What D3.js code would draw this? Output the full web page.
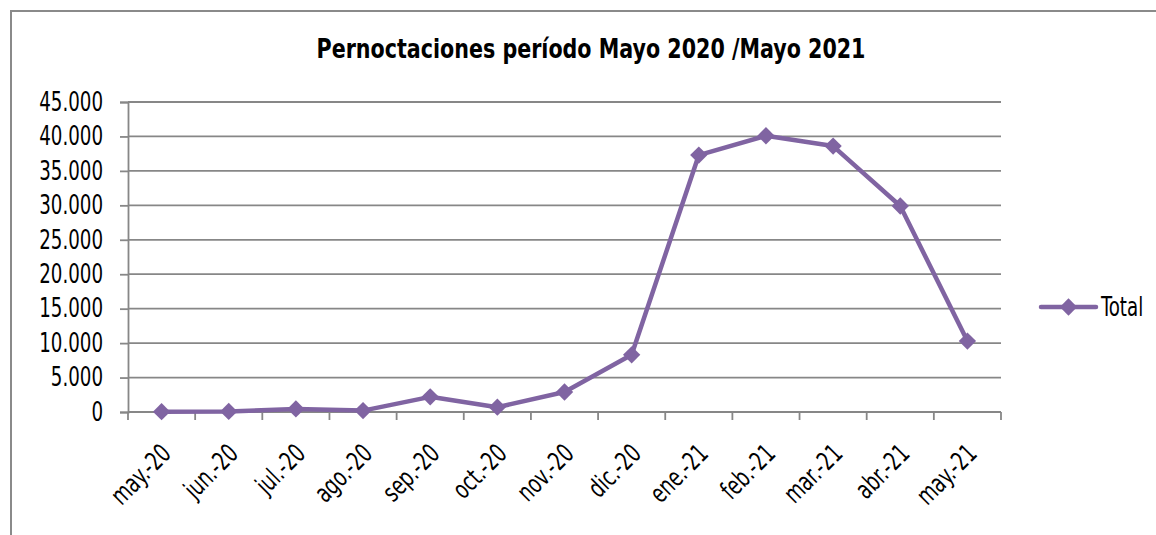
<!DOCTYPE html>
<html>
<head>
<meta charset="utf-8">
<script src="https://cdn.jsdelivr.net/npm/d3@7"></script>
<style>
  body { margin: 0; background: #fff; }
  text { font-family: "DejaVu Sans Condensed", "Liberation Sans Narrow", sans-serif; fill: #000; }
</style>
</head>
<body>
<script>
var months = ["may.-20", "jun.-20", "jul.-20", "ago.-20", "sep.-20", "oct.-20", "nov.-20",
              "dic.-20", "ene.-21", "feb.-21", "mar.-21", "abr.-21", "may.-21"];
var total = [50, 80, 450, 200, 2200, 700, 2900, 8300, 37300, 40100, 38600, 29900, 10300];
var yTicks = [0, 5000, 10000, 15000, 20000, 25000, 30000, 35000, 40000, 45000];

var width = 1156, height = 535;
var margin = {left: 128, right: 155, top: 102, bottom: 123};
var squeeze = 0.78; // the original font is a condensed one, narrow the glyphs

var svg = d3.select("body").append("svg")
    .attr("width", width)
    .attr("height", height);

// chart frame
svg.append("rect")
    .attr("x", 11).attr("y", 11)
    .attr("width", 1170).attr("height", 600)
    .attr("fill", "none")
    .attr("stroke", "#8a8a8a")
    .attr("stroke-width", 2);

svg.append("text")
    .attr("transform", "translate(591,58) scale(0.85,1)")
    .attr("text-anchor", "middle")
    .style("font-size", "27px")
    .style("font-weight", "bold")
    .text("Pernoctaciones período Mayo 2020 /Mayo 2021");

var x = d3.scaleBand()
    .domain(months)
    .range([margin.left, width - margin.right]);

var y = d3.scaleLinear()
    .domain([0, 45000])
    .range([height - margin.bottom, margin.top]);

var fmt = function (d) { return d3.format(",")(d).replace(/,/g, "."); };

// gridlines
svg.append("g")
    .selectAll("line")
    .data(yTicks.slice(1))
    .enter().append("line")
    .attr("x1", margin.left).attr("x2", width - margin.right)
    .attr("y1", d => y(d)).attr("y2", d => y(d))
    .attr("stroke", "#878787")
    .attr("stroke-width", 1.8);

// y axis
var yAxis = svg.append("g")
    .attr("transform", "translate(" + margin.left + ",0)")
    .call(d3.axisLeft(y).tickValues(yTicks).tickFormat(fmt).tickSize(8));
yAxis.selectAll("line, path").attr("stroke", "#878787").attr("stroke-width", 1.8);
yAxis.selectAll("text")
    .attr("x", 0)
    .attr("transform", "translate(-25,0) scale(" + squeeze + ",1)")
    .style("font-size", "26px")
    .attr("fill", "#000");

// x axis with ticks between categories
var xAxis = svg.append("g")
    .attr("transform", "translate(0," + y(0) + ")");
xAxis.append("line")
    .attr("x1", margin.left).attr("x2", width - margin.right)
    .attr("stroke", "#878787").attr("stroke-width", 1.8);
xAxis.selectAll(".tk")
    .data(months.concat(["end"]))
    .enter().append("line")
    .attr("class", "tk")
    .attr("x1", (d, i) => margin.left + i * x.bandwidth())
    .attr("x2", (d, i) => margin.left + i * x.bandwidth())
    .attr("y1", 0).attr("y2", 8)
    .attr("stroke", "#878787").attr("stroke-width", 1.8);
xAxis.selectAll(".lbl")
    .data(months)
    .enter().append("text")
    .attr("class", "lbl")
    .attr("text-anchor", "end")
    .attr("transform", d => "translate(" + (x(d) + x.bandwidth() / 2 + 11) + ",43) rotate(-45) scale(" + squeeze + ",1)")
    .style("font-size", "26px")
    .text(d => d);

// series line
var line = d3.line()
    .x((d, i) => x(months[i]) + x.bandwidth() / 2)
    .y(d => y(d));

svg.append("path")
    .datum(total)
    .attr("d", line)
    .attr("fill", "none")
    .attr("stroke", "#8064a2")
    .attr("stroke-width", 4.5)
    .attr("stroke-linejoin", "round");

var diamond = d3.symbol().type(d3.symbolSquare).size(150);

svg.append("g")
    .selectAll("path")
    .data(total)
    .enter().append("path")
    .attr("d", diamond)
    .attr("transform", (d, i) => "translate(" + (x(months[i]) + x.bandwidth() / 2) + "," + y(d) + ") rotate(45)")
    .attr("fill", "#8064a2");

// legend
var lg = svg.append("g").attr("transform", "translate(1041,307)");
lg.append("line")
    .attr("x1", 0).attr("x2", 55)
    .attr("stroke", "#8064a2").attr("stroke-width", 4.5)
    .attr("stroke-linecap", "round");
lg.append("path")
    .attr("d", diamond)
    .attr("transform", "translate(27.5,0) rotate(45)")
    .attr("fill", "#8064a2");
lg.append("text")
    .attr("transform", "translate(60,9) scale(" + squeeze + ",1)")
    .style("font-size", "26px")
    .text("Total");
</script>
</body>
</html>
